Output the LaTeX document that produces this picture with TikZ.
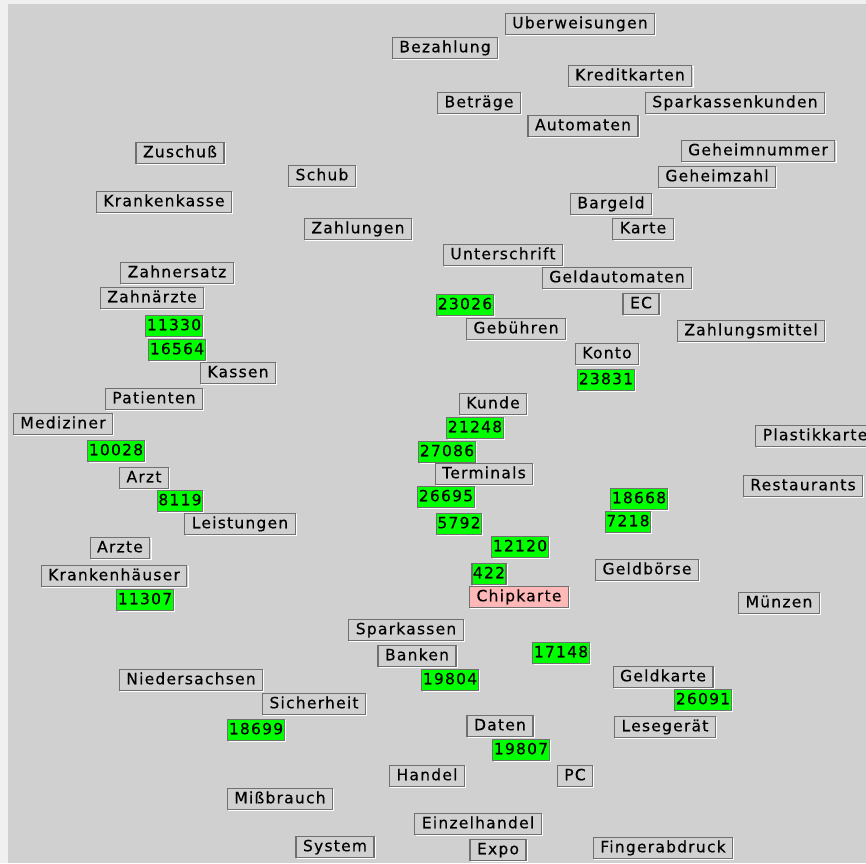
\documentclass[tikz,border=0pt]{standalone}
\usepackage{fontspec}
\setmainfont{DejaVu Sans}[LetterSpace=8,FakeBold=0.4]
\usepackage{tikz}

\definecolor{margin}{HTML}{F0F0F0}
\definecolor{panel}{HTML}{D0D0D0}
\definecolor{bevel}{HTML}{707070}
\definecolor{hit}{HTML}{00FF00}
\definecolor{focus}{HTML}{FFB8B8}

\begin{document}
\begin{tikzpicture}[
  x=1pt,y=-1pt,
  term/.style={draw=bevel,fill=panel,line width=1.2pt,inner xsep=7pt,inner ysep=0pt,
    minimum height=21pt,text height=11.5pt,text depth=3pt,font=\fontsize{15.5}{17}\selectfont,
    preaction={draw=white,line width=1pt,transform canvas={shift={(1.2pt,-1.2pt)}}}},
  doc/.style={term,fill=hit,inner xsep=1pt},
  query/.style={term,fill=focus}
]
\useasboundingbox (0,0) rectangle (866,863);
\fill[margin] (0,0) rectangle (866,863);
\fill[panel] (8,4) rectangle (866,863);
% upper part: payment words
\node[term] (ueberweisungen) at (580,24) {Uberweisungen};
\node[term] (bezahlung) at (445,48) {Bezahlung};
\node[term] (kreditkarten) at (630,76) {Kreditkarten};
\node[term] (betraege) at (479,103) {Beträge};
\node[term] (sparkassenkunden) at (735,103) {Sparkassenkunden};
\node[term] (automaten) at (583,126) {Automaten};
\node[term] (geheimnummer) at (758,151) {Geheimnummer};
\node[term] (zuschuss) at (180,153) {Zuschuß};
\node[term] (schub) at (322,176) {Schub};
\node[term] (geheimzahl) at (717,177) {Geheimzahl};
\node[term] (krankenkasse) at (164,202) {Krankenkasse};
\node[term] (bargeld) at (611,204) {Bargeld};
\node[term] (zahlungen) at (358,229) {Zahlungen};
\node[term] (karte) at (643,229) {Karte};
\node[term] (unterschrift) at (503,255) {Unterschrift};
\node[term] (zahnersatz) at (177,273) {Zahnersatz};
\node[term] (geldautomaten) at (617,278) {Geldautomaten};
\node[term] (zahnaerzte) at (152,298) {Zahnärzte};
\node[doc] (d23026) at (465,305) {23026};
\node[term] (ec) at (641,304) {EC};
\node[doc] (d11330) at (174,326) {11330};
\node[term] (gebuehren) at (516,329) {Gebühren};
\node[term] (zahlungsmittel) at (751,331) {Zahlungsmittel};
\node[doc] (d16564) at (177,350) {16564};
\node[term] (konto) at (607,354) {Konto};
\node[term] (kassen) at (238,373) {Kassen};
\node[doc] (d23831) at (606,380) {23831};
% middle part
\node[term] (patienten) at (154,399) {Patienten};
\node[term] (kunde) at (493,404) {Kunde};
\node[term] (mediziner) at (63,424) {Mediziner};
\node[doc] (d21248) at (475,428) {21248};
\node[term] (plastikkarte) at (815,436) {Plastikkarte};
\node[doc] (d10028) at (116,451) {10028};
\node[doc] (d27086) at (447,452) {27086};
\node[term] (terminals) at (484,474) {Terminals};
\node[term] (arzt) at (144,478) {Arzt};
\node[term] (restaurants) at (803,486) {Restaurants};
\node[doc] (d26695) at (446,497) {26695};
\node[doc] (d18668) at (639,499) {18668};
\node[doc] (d8119) at (180,501) {8119};
\node[doc] (d7218) at (628,522) {7218};
\node[term] (leistungen) at (240,524) {Leistungen};
\node[doc] (d5792) at (459,524) {5792};
\node[doc] (d12120) at (520,547) {12120};
\node[term] (arzte) at (120,548) {Arzte};
\node[term] (geldboerse) at (647,570) {Geldbörse};
\node[doc] (d422) at (489,574) {422};
\node[term] (krankenhaeuser) at (114,576) {Krankenhäuser};
\node[query] (chipkarte) at (519,597) {Chipkarte};
\node[doc] (d11307) at (145,600) {11307};
\node[term] (muenzen) at (779,603) {Münzen};
% lower part
\node[term] (sparkassen) at (406,630) {Sparkassen};
\node[doc] (d17148) at (561,653) {17148};
\node[term] (banken) at (417,656) {Banken};
\node[term] (geldkarte) at (663,677) {Geldkarte};
\node[term] (niedersachsen) at (191,680) {Niedersachsen};
\node[doc] (d19804) at (450,680) {19804};
\node[doc] (d26091) at (703,700) {26091};
\node[term] (sicherheit) at (314,704) {Sicherheit};
\node[term] (daten) at (500,726) {Daten};
\node[term] (lesegeraet) at (665,727) {Lesegerät};
\node[doc] (d18699) at (256,730) {18699};
\node[doc] (d19807) at (521,750) {19807};
\node[term] (handel) at (427,776) {Handel};
\node[term] (pc) at (575,776) {PC};
\node[term] (missbrauch) at (280,799) {Mißbrauch};
\node[term] (einzelhandel) at (478,824) {Einzelhandel};
\node[term] (system) at (335,847) {System};
\node[term] (fingerabdruck) at (663,848) {Fingerabdruck};
\node[term] (expo) at (498,850) {Expo};
\end{tikzpicture}
\end{document}
